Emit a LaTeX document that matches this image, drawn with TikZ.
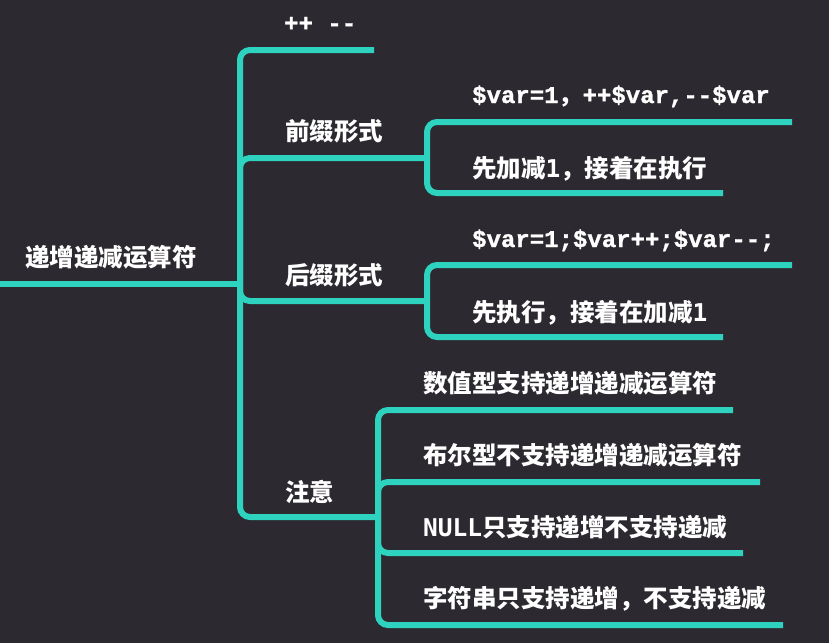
\documentclass[tikz,border=0pt]{standalone}
\usepackage{fontspec}
\newfontfamily\cjk{Noto Sans CJK SC}
\newfontfamily\mono{Liberation Mono}[BoldFont={Liberation Mono Bold}, BoldFeatures={FakeBold=1.2}]
\newfontfamily\hmono{DejaVu Sans Mono}
\definecolor{bg}{HTML}{2C2930}
\definecolor{teal1}{HTML}{2DD3BE}
\begin{document}
\begin{tikzpicture}[x=1pt,y=-1pt,
  br/.style={line width=6pt, draw=teal1, rounded corners=10pt},
  lbl/.style={anchor=base west, inner sep=0pt, text=white, font=\cjk\bfseries\fontsize{24.5}{28}\selectfont},
  code/.style={lbl, font=\mono\bfseries\fontsize{24}{28}\selectfont}]
\fill[bg] (0,0) rectangle (829,643);
\useasboundingbox (0,0) rectangle (829,643);
% texts
\node[lbl] (root) at (25,266) {递增递减运算符};
\node[code] (pm) at (284,31) {++ -{}-};
\node[lbl] (qz) at (285,140) {前缀形式};
\node[lbl] (hz) at (285,284) {后缀形式};
\node[lbl] (zy) at (285,501) {注意};
\node[code] (q1) at (472,103) {\$var=1{\cjk ，}++\$var,-{}-\$var};
\node[lbl] (q2) at (472,177) {先加减{\hmono 1}，接着在执行};
\node[code] (h1) at (472,247) {\$var=1;\$var++;\$var-{}-;};
\node[lbl] (h2) at (472,321) {先执行，接着在加减{\hmono 1}};
\node[lbl] (z1) at (423,392) {数值型支持递增递减运算符};
\node[lbl] (z2) at (423,464) {布尔型不支持递增递减运算符};
\node[lbl] (z3) at (423,536) {{\hmono NULL}只支持递增不支持递减};
\node[lbl] (z4) at (423,607) {字符串只支持递增，不支持递减};
% junctions and line ends
\coordinate (r0) at (0,284);
\coordinate (j1) at (240,284);
\coordinate (pmE) at (374,50);
\coordinate (jq) at (427,158);
\coordinate (jh) at (427,301);
\coordinate (jz) at (378,517);
\coordinate (q1E) at (792,122);
\coordinate (q2E) at (723,193);
\coordinate (h1E) at (792,265);
\coordinate (h2E) at (723,337);
\coordinate (z1E) at (733,410);
\coordinate (z2E) at (760,482);
\coordinate (z3E) at (743,553);
\coordinate (z4E) at (783,625);
% connectors
\draw[br] (r0) -- (j1);
\draw[br] (j1) |- (pmE);
\draw[br] (j1) |- (jq);
\draw[br] (j1) |- (jh);
\draw[br] (j1) |- (jz);
\draw[br] (jq) |- (q1E);
\draw[br] (jq) |- (q2E);
\draw[br] (jh) |- (h1E);
\draw[br] (jh) |- (h2E);
\draw[br] (jz) |- (z1E);
\draw[br] (jz) |- (z2E);
\draw[br] (jz) |- (z3E);
\draw[br] (jz) |- (z4E);
\end{tikzpicture}
\end{document}
